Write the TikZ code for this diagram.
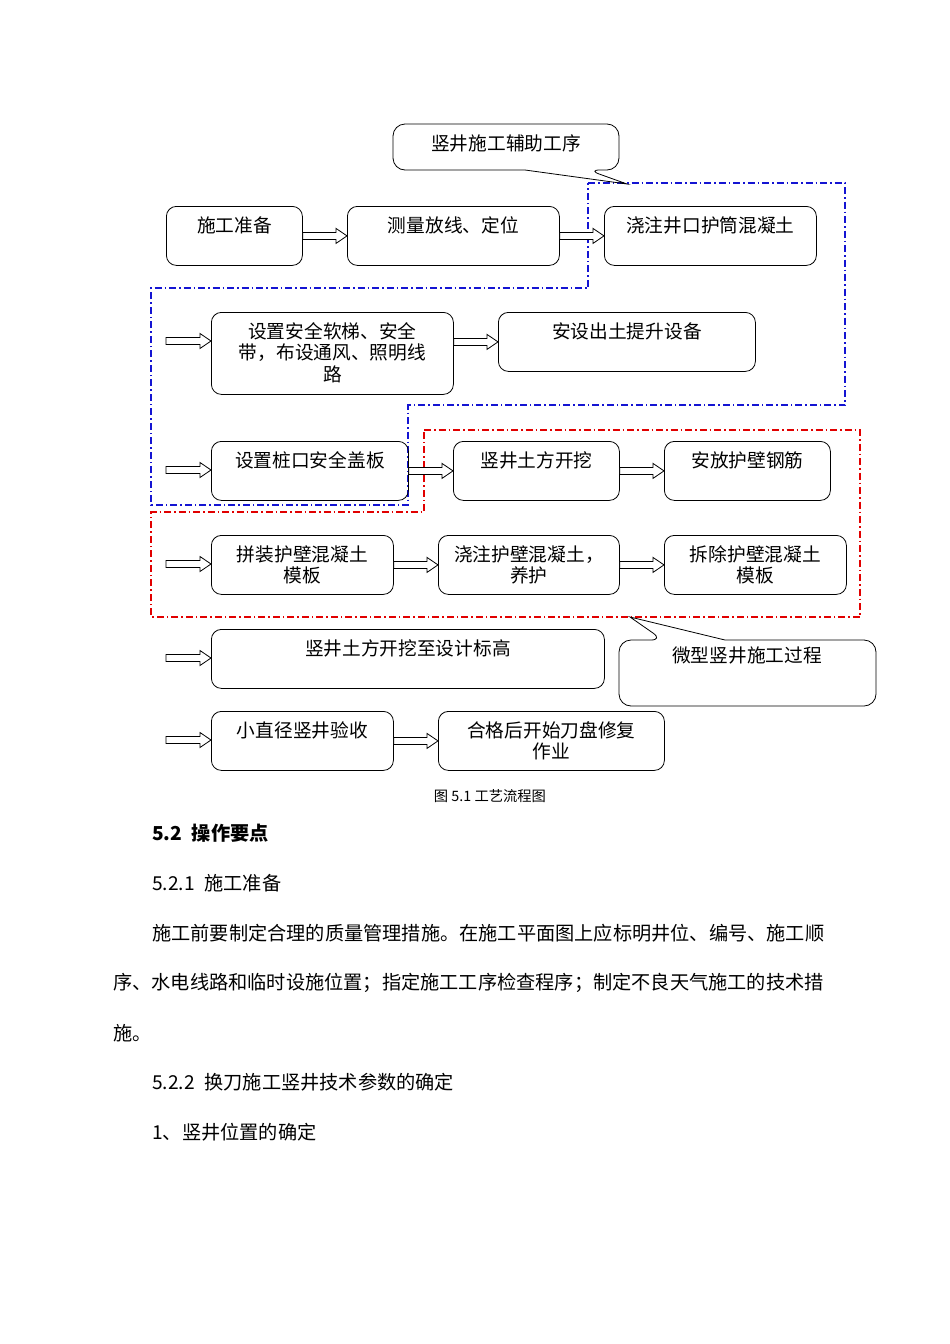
\documentclass[tikz,border=0pt]{standalone}
\usepackage{fontspec}
\setmainfont{Noto Sans CJK SC}
\usetikzlibrary{calc}
\definecolor{dblue}{RGB}{20,20,210}
\definecolor{dred}{RGB}{225,0,0}
\newcommand{\blockarr}[2]{\draw[blockarrow] let \p1=(#1), \p2=(#2) in (\x1,{\y1+3.5pt}) -- ({\x2-11pt},{\y1+3.5pt}) -- ({\x2-11pt},{\y1+7.5pt}) -- (\x2,\y1) -- ({\x2-11pt},{\y1-7.5pt}) -- ({\x2-11pt},{\y1-3.5pt}) -- (\x1,{\y1-3.5pt}) -- cycle;}
\newcommand{\hsp}{\hspace{0.5em}}
\tikzset{
  box/.style={draw, line width=0.8pt, rounded corners=10pt, anchor=north west, align=center,
    inner xsep=2pt, inner ysep=0pt, text height=26pt, text depth=33pt,
    font=\fontsize{18.7pt}{21.5pt}\selectfont},
  twoline/.style={text height=47.5pt, text depth=11.5pt},
  threeline/.style={text height=69pt, text depth=13pt},
  blockarrow/.style={draw, line width=0.8pt, fill=white, line join=miter},
  bluezone/.style={draw=dblue, line width=1.2pt, dash pattern=on 7pt off 3pt on 1.5pt off 3pt},
  redzone/.style={draw=dred, line width=1.2pt, dash pattern=on 7pt off 3pt on 1.5pt off 3pt},
  callout/.style={draw, line width=0.8pt},
  ctext/.style={inner sep=0pt, font=\fontsize{18.7pt}{21.5pt}\selectfont},
  txt/.style={anchor=west, inner sep=0pt, font=\fontsize{19.2pt}{22pt}\selectfont},
}
\begin{document}
\begin{tikzpicture}[x=1pt,y=-1pt]
\useasboundingbox (0,0) rectangle (950,1344);
% zones
\draw[bluezone] (588,183) -- (845,183) -- (845,405) -- (408,405) -- (408,505) -- (151,505) -- (151,288) -- (588,288) -- cycle;
\draw[redzone] (424,430) -- (860,430) -- (860,617) -- (151,617) -- (151,512) -- (424,512) -- cycle;
% callouts
\draw[callout] (393,147) [rounded corners=12pt] -- (393,124) -- (619,124) -- (619,170) -- (588,170) [sharp corners] -- (627,184) -- (525,170) [rounded corners=12pt] -- (393,170) -- cycle;
\node[ctext] (c1) at (506,143) {竖井施工辅助工序};
\draw[callout] (619,673) [rounded corners=12pt] -- (619,640) -- (663,640) [sharp corners] -- (630,617) -- (725,640) [rounded corners=12pt] -- (876,640) -- (876,706) -- (619,706) -- cycle;
\node[ctext] (c2) at (747,655) {微型竖井施工过程};
% row 1
\node[box, minimum width=136pt] (n1) at (166,206) {施工准备};
\node[box, minimum width=212pt] (n2) at (347,206) {测量放线、定位};
\node[box, minimum width=212pt] (n3) at (604,206) {浇注井口护筒混凝土};
\blockarr{n1.east |- n2.west}{n2.west}
\blockarr{n2.east |- n3.west}{n3.west}
% row 2
\coordinate (s4) at (166,341);
\node[box, threeline, minimum width=242pt] (n4) at (211,312) {设置安全软梯、安全\\带，布设通风、照明线\\路};
\node[box, minimum width=257pt] (n5) at (498,312) {安设出土提升设备};
\blockarr{s4}{n4.west |- s4}
\blockarr{n4.east |- n5.west}{n5.west}
% row 3
\coordinate (s6) at (166,470);
\node[box, minimum width=197pt] (n6) at (211,441) {设置桩口安全盖板};
\node[box, minimum width=166pt] (n7) at (453,441) {竖井土方开挖};
\node[box, minimum width=166pt] (n8) at (664,441) {安放护壁钢筋};
\blockarr{s6}{n6.west |- s6}
\blockarr{n6.east |- n7.west}{n7.west}
\blockarr{n7.east |- n8.west}{n8.west}
% row 4
\coordinate (s9) at (166,564);
\node[box, twoline, minimum width=182pt] (n9) at (211,535) {拼装护壁混凝土\\模板};
\node[box, twoline, minimum width=181pt] (n10) at (438,535) {浇注护壁混凝土，\\养护};
\node[box, twoline, minimum width=182pt] (n11) at (664,535) {拆除护壁混凝土\\模板};
\blockarr{s9}{n9.west |- s9}
\blockarr{n9.east |- n10.west}{n10.west}
\blockarr{n10.east |- n11.west}{n11.west}
% row 5
\coordinate (s12) at (166,658);
\node[box, minimum width=393pt] (n12) at (211,629) {竖井土方开挖至设计标高};
\blockarr{s12}{n12.west |- s12}
% row 6
\coordinate (s13) at (166,740);
\node[box, minimum width=182pt] (n13) at (211,711) {小直径竖井验收};
\node[box, twoline, minimum width=226pt] (n14) at (438,711) {合格后开始刀盘修复\\作业};
\blockarr{s13}{n13.west |- s13}
\blockarr{n13.east |- n14.west}{n14.west}
% caption and text
\node[inner sep=0pt, font=\fontsize{14.3pt}{16pt}\selectfont] (cap) at (490,796) {图 5.1 工艺流程图};
\node[txt, font=\fontsize{19.2pt}{22pt}\selectfont\bfseries] (h1) at (152,833) {5.2\hsp 操作要点};
\node[txt] (h2) at (152,883) {5.2.1\hsp 施工准备};
\node[txt] (p1) at (152,933) {施工前要制定合理的质量管理措施。在施工平面图上应标明井位、编号、施工顺};
\node[txt] (p2) at (113,983) {序、水电线路和临时设施位置；指定施工工序检查程序；制定不良天气施工的技术措};
\node[txt] (p3) at (113,1033) {施。};
\node[txt] (h3) at (152,1082) {5.2.2\hsp 换刀施工竖井技术参数的确定};
\node[txt] (h4) at (152,1132) {1、竖井位置的确定};
\end{tikzpicture}
\end{document}
